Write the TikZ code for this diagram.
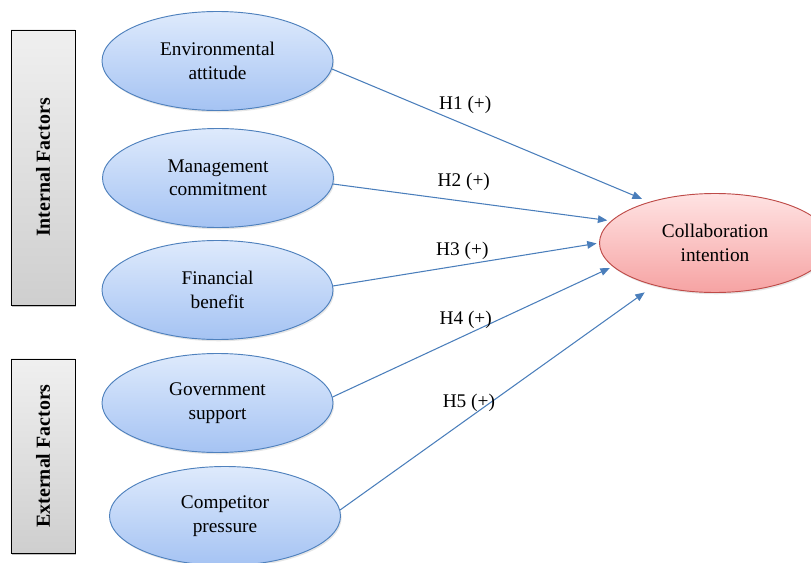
\documentclass[tikz,border=0pt]{standalone}
\usepackage{fontspec}
\setmainfont{Liberation Serif}
\usetikzlibrary{positioning,shapes.geometric,arrows.meta,shadows}
\definecolor{factorTop}{HTML}{DEEAFC}
\definecolor{factorBottom}{HTML}{A5C3F3}
\definecolor{factorEdge}{HTML}{4F81BD}
\definecolor{outcomeTop}{HTML}{FFE3E3}
\definecolor{outcomeBottom}{HTML}{F6A3A3}
\definecolor{outcomeEdge}{HTML}{BE4B48}
\definecolor{linkBlue}{HTML}{4A7EBB}

\begin{document}
\begin{tikzpicture}[
        x=0.03cm, y=-0.03cm,
        factor/.style={
            ellipse, draw = factorEdge, line width = 0.8pt,
            top color = factorTop, bottom color = factorBottom,
            minimum width = 6.93cm, minimum height = 2.97cm, align = center,
            font = \fontsize{16.5}{20}\selectfont,
            drop shadow = {shadow xshift = 1pt, shadow yshift = -1.5pt, opacity = 0.2}
        },
        outcome/.style={
            factor, draw = outcomeEdge,
            top color = outcomeTop, bottom color = outcomeBottom
        },
        group/.style={
            rectangle, draw = black, thin, rotate = 90,
            top color = gray!12, bottom color = gray!38,
            minimum height = 1.92cm, font = \bfseries\fontsize{17}{20}\selectfont,
            drop shadow = {shadow xshift = 0.8pt, shadow yshift = -2pt, fill = black!60, opacity = 0.4}
        },
        link/.style={->, draw = linkBlue, line width = 0.9pt},
        hyp/.style={font = \fontsize{16.5}{20}\selectfont},
        >={Triangle[length=8pt,width=6.5pt]}
    ]
    \clip (0,0) rectangle (811,563);

    \node (internalFactors) [group, minimum width = 8.25cm] at (43,167.5) {Internal Factors};
    \node (externalFactors) [group, minimum width = 5.82cm] at (43,456) {External Factors};

    \node (envAttitude) [factor] at (217.5,61) {Environmental \\ attitude};
    \node (mgmtCommitment) [factor] at (218,178) {Management \\ commitment};
    \node (finBenefit) [factor] at (217.5,290) {Financial \\ benefit};
    \node (govSupport) [factor] at (217.5,403) {Government \\ support};
    \node (compPressure) [factor] at (225,516) {Competitor \\ pressure};

    \node (collabIntention) [outcome] at (715,243) {Collaboration \\ intention};

    \path (envAttitude.356) edge[link, shorten >=6.8pt] node[hyp, pos=0.42, yshift=0.6cm] {H1 (+)} (collabIntention.148);
    \path (mgmtCommitment.357) edge[link, shorten >=3.2pt] node[hyp, pos=0.47, yshift=0.6cm] {H2 (+)} (collabIntention.168.5);
    \path (finBenefit.2) edge[link, shorten >=2.1pt] node[hyp, pos=0.486, yshift=0.42cm] {H3 (+)} (collabIntention.180.5);
    \path (govSupport.3) edge[link, shorten >=2.8pt] node[hyp, pos=0.475, yshift=0.45cm] {H4 (+)} (collabIntention.193.5);
    \path (compPressure.3) edge[link, shorten >=10pt] node[hyp, pos=0.41, yshift=0.45cm] {H5 (+)} (collabIntention.215);

\end{tikzpicture}
\end{document}
